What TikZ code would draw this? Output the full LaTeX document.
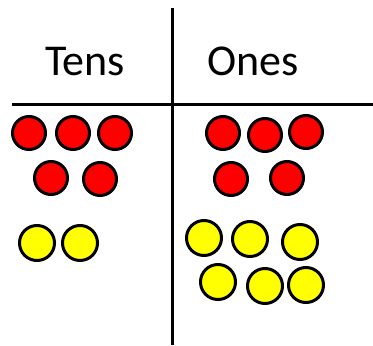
\documentclass[tikz,border=0pt]{standalone}
\usepackage{fontspec}
\setmainfont{Carlito}
\definecolor{cred}{RGB}{255,0,0}
\definecolor{cyel}{RGB}{255,255,0}
\begin{document}
\begin{tikzpicture}[x=1pt,y=-1pt,
  rule/.style={line width=3pt},
  redc/.style={circle,draw=black,line width=3pt,fill=cred,minimum size=33pt,inner sep=0pt},
  yelc/.style={circle,draw=black,line width=3pt,fill=cyel,minimum size=35pt,inner sep=0pt},
  head/.style={font=\fontsize{44}{44}\selectfont,anchor=base}]
\useasboundingbox (0,0) rectangle (373,346);
\coordinate (vt) at (172,8);
\coordinate (vb) at (172,345);
\coordinate (hl) at (12,104);
\coordinate (hr) at (373,104);
\draw[rule] (vt) -- (vb);
\draw[rule] (hl) -- (hr);
\node[head] (tens) at (85,75) {Tens};
\node[head] (ones) at (253,75) {Ones};
% tens reds
\node[redc] (tr1) at (29,133) {};
\node[redc] (tr2) at (73,133) {};
\node[redc] (tr3) at (115,133) {};
\node[redc] (tr4) at (51,178) {};
\node[redc] (tr5) at (100,179) {};
% ones reds
\node[redc] (or1) at (223,133) {};
\node[redc] (or2) at (265,135) {};
\node[redc] (or3) at (306,132) {};
\node[redc] (or4) at (231,179) {};
\node[redc] (or5) at (287,178) {};
% tens yellows
\node[yelc] (ty1) at (37,243) {};
\node[yelc] (ty2) at (80,243) {};
% ones yellows
\node[yelc] (oy1) at (204,238) {};
\node[yelc] (oy2) at (250,239) {};
\node[yelc] (oy3) at (300,242) {};
\node[yelc] (oy4) at (218,282) {};
\node[yelc] (oy5) at (265,286) {};
\node[yelc] (oy6) at (306,285) {};
\end{tikzpicture}
\end{document}
